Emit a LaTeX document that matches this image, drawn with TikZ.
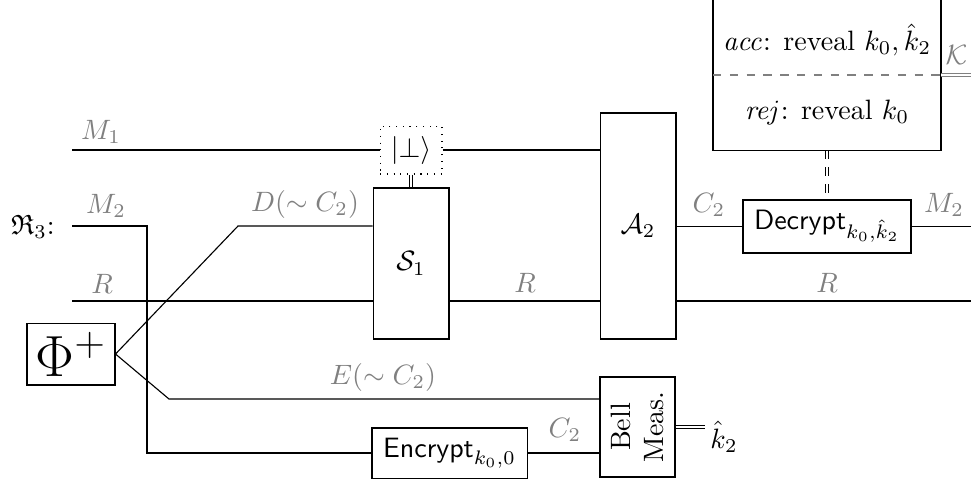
\documentclass[tikz,border=0pt]{standalone}
\usepackage{amsmath,amssymb}
\usetikzlibrary{calc}
\begin{document}
\begin{tikzpicture}[x=0.35714pt,y=-0.35714pt,
  gbox/.style={draw,inner sep=0pt,align=center},
  lbl/.style={text=gray,inner sep=0pt},
  dbl/.style={double,double distance=0.7pt},
  wire/.style={draw}]
\useasboundingbox (0,0) rectangle (971,481);
% boxes
\node[gbox,minimum width=31.4pt,minimum height=22.1pt] (phi) at (71,354) {\huge$\Phi^+$};
\node[gbox,dotted,minimum width=22.1pt,minimum height=17.1pt] (bot) at (411,150) {$|\bot\rangle$};
\node[gbox,minimum width=27.1pt,minimum height=53.9pt] (S1) at (411,263.5) {$\mathcal{S}_1$};
\node[gbox,minimum width=27.1pt,minimum height=80.7pt] (A2) at (638,226) {$\mathcal{A}_2$};
\node[gbox,minimum width=60pt,minimum height=18.9pt] (dec) at (827,226.5) {$\textsf{Decrypt}_{k_0,\hat{k}_2}$};
\node[gbox,minimum width=55.4pt,minimum height=17.9pt] (enc) at (449.5,453) {$\textsf{Encrypt}_{k_0,0}$};
\node[gbox,minimum width=26.8pt,minimum height=35.7pt] (bell) at (637.5,427) {};
\node[rotate=90,align=center,inner sep=0pt] (belltxt) at (bell.center) {Bell\\Meas.};
\node[gbox,minimum width=81.4pt,minimum height=55.4pt] (top) at (827,72.5) {};
\node[inner sep=0pt] (acc) at (827,40) {$\mathit{acc}$: reveal $k_0,\hat{k}_2$};
\node[inner sep=0pt] (rej) at (827,112) {$\mathit{rej}$: reveal $k_0$};
\coordinate (dl) at (713,75);
\coordinate (dr) at (941,75);
\draw[gray,dashed,thick] (dl) -- (dr);
% coordinates
\coordinate (m1s) at (72,150);
\coordinate (m2s) at (72,226);
\coordinate (m2c) at (147,226);
\coordinate (m2d) at (147,453);
\coordinate (rs) at (72,301);
\coordinate (re) at (971,301);
\coordinate (dk) at (238,226);
\coordinate (ek) at (169,399);
\coordinate (m2e) at (971,226);
\coordinate (ke) at (971,75);
\coordinate (kh) at (705,427);
% wires
\draw (m1s) -- (bot.west);
\draw (bot.east) -- (bot.east -| A2.west);
\draw (m2s) -- (m2c) -- (m2d) -- (enc.west);
\draw (phi.east) -- (dk) -- (dk -| S1.west);
\draw (rs) -- (rs -| S1.west);
\draw (S1.east |- rs) -- (rs -| A2.west);
\draw (A2.east |- rs) -- (re);
\draw (phi.east) -- (ek) -- (ek -| bell.west);
\draw (enc.east) -- (enc.east -| bell.west);
\draw (A2.east |- dec.west) -- (dec.west);
\draw (dec.east) -- (dec.east -| m2e);
\draw[dbl] (bot.south) -- (bot.south |- S1.north);
\draw[dbl,dashed] (top.south) -- (dec.north);
\draw[dbl,gray] (dr) -- (ke);
\draw[dbl] (bell.east) -- (kh);
% labels
\node[inner sep=0pt] (R3) at (33,227) {$\mathfrak{R}_3$:};
\node[inner sep=0pt] (k2) at (724,437) {$\hat{k}_2$};
\node[lbl] (lM1) at (101,132) {$M_1$};
\node[lbl] (lM2) at (106,206) {$M_2$};
\node[lbl] (lR1) at (102,284) {$R$};
\node[lbl] (lD) at (305,204) {$D(\sim C_2)$};
\node[lbl] (lR2) at (525,283) {$R$};
\node[lbl] (lC2a) at (709,205) {$C_2$};
\node[lbl] (lM2b) at (944,205) {$M_2$};
\node[lbl] (lR3) at (827,283) {$R$};
\node[lbl] (lE) at (383,377) {$E(\sim C_2)$};
\node[lbl] (lC2b) at (565,430) {$C_2$};
\node[lbl,anchor=west] (lK) at (945,55) {$\mathcal{K}$};
\end{tikzpicture}
\end{document}
